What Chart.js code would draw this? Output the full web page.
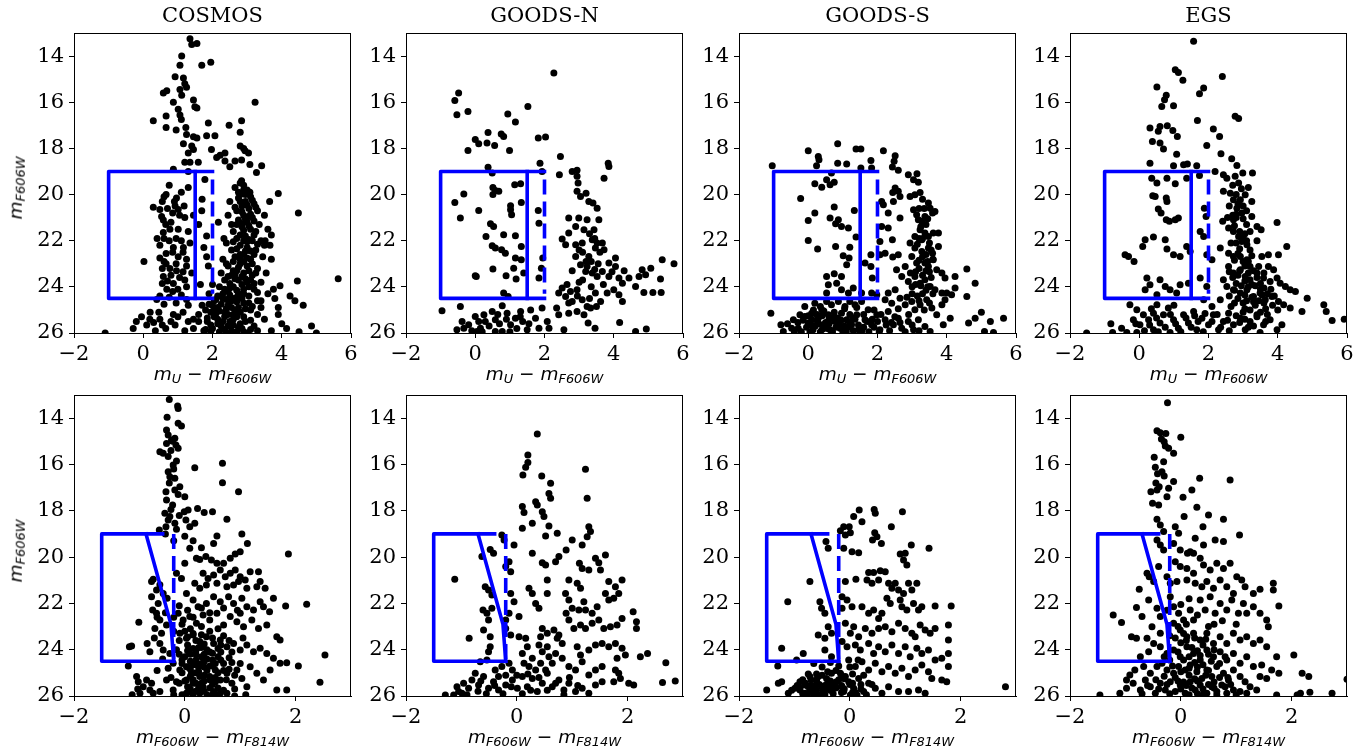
<!DOCTYPE html>
<html>
<head>
<meta charset="utf-8">
<script src="https://cdn.jsdelivr.net/npm/chart.js@4"></script>
<style>
  body { margin: 0; background: #fff; width: 1369px; height: 753px; position: relative; overflow: hidden; }
  canvas { position: absolute; }
  .title { position: absolute; font-family: 'DejaVu Serif'; font-size: 21px; line-height: 1; color: #000; transform: translateX(-50%); white-space: nowrap; }
  .lab { position: absolute; font-family: 'DejaVu Sans'; font-style: italic; font-size: 18.5px; line-height: 1; color: #000; white-space: nowrap; }
  .lab .s { font-size: 0.7em; position: relative; top: 0.2em; line-height: 0; }
  .xlab { transform: translateX(-50%); }
  .ylab { transform: translate(-50%, -50%) rotate(-90deg); }
</style>
</head>
<body>
<script>
// field names and axis ticks
const fields = ['COSMOS', 'GOODS-N', 'GOODS-S', 'EGS'];
const uvTicks = [-2, 0, 2, 4, 6];
const viTicks = [-2, 0, 2];
const magTicks = [14, 16, 18, 20, 22, 24, 26];
const uvRange = [-2, 6];
const viRange = [-2, 3];
const magRange = [13, 26];

// selection boxes
const uvBoxSolid = [[2, 19], [-1, 19], [-1, 24.5], [2, 24.5]];
const uvBoxCut = [[1.5, 19], [1.5, 24.5]];
const uvBoxDash = [[2, 19.35], [2, 24.3]];
const viBoxSolid = [[-0.4, 19], [-1.5, 19], [-1.5, 24.5], [-0.2, 24.5]];
const viBoxCut = [[-0.7, 19], [-0.25, 22.9], [-0.2, 24.5]];
const viBoxDash = [[-0.2, 19], [-0.2, 24.4]];

// m_U - m_F606W vs m_F606W
const cosmosUV = [
  [1.35,13.25],[1.55,13.45],[1.4,13.5],[1.11,14.0],[1.69,14.4],[1.95,14.27],[1.06,14.4],[0.92,14.9],[1.16,14.95],[1.2,15.2],
  [1.25,15.35],[0.68,15.5],[0.58,15.6],[1.06,15.45],[1.11,15.7],[1.45,15.9],[1.49,16.2],[1.55,16.25],[3.23,16.0],[0.87,16.0],
  [0.66,16.6],[1.01,16.3],[1.06,16.55],[1.1,16.75],[0.29,16.8],[0.66,17.1],[0.95,17.2],[1.23,17.1],[1.25,17.4],[1.45,17.5],
  [1.55,17.55],[1.88,16.9],[2.48,17.0],[2.84,16.8],[2.8,17.3],[1.83,17.45],[2.07,17.45],[1.16,17.8],[1.4,17.9],[1.45,18.05],
  [1.3,18.2],[1.97,18.05],[2.8,17.9],[2.94,18.1],[2.9,18.0],[3.04,18.2],[2.22,18.3],[2.36,18.2],[2.12,18.4],[2.36,18.55],
  [2.5,18.8],[2.65,18.55],[2.84,18.5],[3.08,18.7],[3.42,18.75],[3.27,19.05],[1.2,18.6],[1.35,18.6],[1.59,18.6],[0.87,18.9],
  [1.3,19.0],[1.78,19.35],[2.8,19.5],[2.84,19.4],[2.65,19.7],[2.9,19.8],[3.08,19.9],[3.9,19.95],[1.3,19.7],[0.66,20.0],
  [0.96,20.15],[0.29,20.55],[0.48,20.65],[0.92,20.5],[1.01,20.65],[1.18,20.5],[0.53,20.95],[0.58,21.1],[1.69,20.7],[2.17,21.2],
  [2.5,20.3],[4.48,20.8],[0.77,21.5],[0.58,21.65],[1.01,21.5],[1.83,21.8],[2.33,21.9],[0.48,22.2],[0.87,22.3],[0.66,22.55],
  [0.48,22.75],[1.01,22.7],[1.16,22.3],[3.66,22.2],[3.52,22.0],[3.7,21.75],[0.02,22.9],[0.66,23.0],[0.77,23.2],[0.96,23.3],
  [1.25,23.1],[1.83,22.7],[1.88,23.1],[2.4,23.0],[0.58,23.55],[0.87,23.85],[1.2,23.7],[1.25,24.0],[0.68,24.1],[0.48,24.4],
  [0.39,24.55],[3.95,23.95],[3.76,24.1],[4.45,23.75],[5.63,23.65],[4.24,24.4],[4.38,24.6],[4.62,24.8],[3.9,24.9],[3.4,24.6],
  [-0.05,25.3],[-0.29,25.8],[-1.1,26.0],[0.19,25.4],[0.1,25.65],[0.48,25.4],[0.87,25.2],[0.92,25.65],[1.45,25.4],[1.45,25.8],
  [4.0,25.6],[4.14,25.8],[4.86,25.7],[5.0,26.0],[4.5,25.95],
  [0.75,19.6],[1.1,19.9],[0.55,20.3],[0.85,20.8],[1.2,21.0],[0.65,21.3],[0.95,21.9],[1.3,21.6],[0.75,22.0],[1.15,22.5],
  [0.55,23.2],[1.05,23.6],[0.85,24.2],[1.1,24.35],[1.4,23.4],[0.7,23.75],[1.35,22.1],[0.4,21.9],[1.45,20.9],[0.6,24.75],
  [0.95,24.7],[1.3,24.8],[0.2,25.1],[0.65,25.8],[1.15,25.1],[1.7,24.8],[1.6,25.5],[1.2,25.9],[0.35,25.9],[-0.2,25.5],
  [1.65,23.9],[1.75,22.3],[1.6,21.3],[1.7,20.2],
  [2.9,19.6],[3.0,19.8],[2.8,20.0],[3.1,20.1],[2.95,20.3],[3.2,20.4],[2.85,20.5],[3.05,20.6],[2.7,20.7],[3.3,20.7],
  [2.9,20.9],[3.15,21.0],[2.75,21.1],[3.0,21.2],[3.35,21.3],[2.85,21.4],[3.1,21.5],[2.6,21.6],[3.25,21.6],[2.95,21.8],
  [2.7,21.9],[3.15,22.0],[3.4,22.0],[2.8,22.2],[3.0,22.3],[2.55,22.4],[3.25,22.4],[2.9,22.6],[2.65,22.7],[3.1,22.8],
  [3.45,22.7],[2.8,23.0],[3.0,23.1],[2.45,23.1],[3.3,23.2],[2.7,23.3],[2.9,23.4],[2.55,23.5],[3.15,23.5],[2.35,23.7],
  [2.75,23.7],[3.0,23.8],[3.4,23.8],[2.6,24.0],[2.2,24.0],[2.9,24.1],[3.2,24.1],[2.45,24.2],[2.75,24.3],[3.05,24.4],
  [2.3,24.5],[2.6,24.5],[2.05,24.6],[2.9,24.7],[3.3,24.6],[2.45,24.8],[2.15,24.9],[2.75,24.9],[3.1,25.0],[1.95,25.1],
  [2.35,25.1],[2.6,25.2],[2.9,25.3],[2.15,25.4],[2.5,25.5],[1.85,25.5],[2.8,25.6],[2.25,25.7],[3.2,25.7],[2.0,25.8],
  [2.55,25.9],[1.75,25.9],[2.4,26.0],[3.0,26.0],[2.7,25.95],[3.5,25.4],[3.4,24.9],[3.6,24.3],[3.55,23.4],[3.7,22.8],
  [3.5,22.2],[3.6,21.5],[3.5,20.9],[3.65,20.3],[2.45,20.9],[2.55,21.3],[2.4,22.1],[2.3,22.8],[2.25,23.4],[2.0,23.9],
  [1.9,24.3],[1.8,25.0],[3.8,24.5],[3.9,25.2],[3.3,25.9],[3.7,25.9]
];
const cosmosUVDense = [
  [2.75,19.9],[2.95,20.0],[3.15,20.25],[2.8,20.3],[3.0,20.45],[2.65,20.55],[3.25,20.55],[2.85,20.75],[3.1,20.85],[2.95,21.05],
  [3.2,21.15],[2.7,21.3],[3.05,21.35],[2.9,21.55],[3.2,21.75],[2.8,21.75],[3.05,21.95],[2.6,22.05],[2.9,22.0],[3.3,22.15],
  [2.7,22.35],[3.1,22.45],[2.95,22.45],[2.8,22.6],[3.2,22.6],[3.0,22.75],[2.6,22.9],[2.9,22.9],[3.15,23.0],[2.75,23.15],
  [3.05,23.3],[2.6,23.3],[2.85,23.55],[3.25,23.4],[2.45,23.55],[2.65,23.65],[3.1,23.7],[2.5,23.85],[2.85,23.9],[3.05,24.0],
  [2.35,24.1],[2.7,24.15],[3.3,24.25],[2.5,24.35],[2.85,24.5],[2.15,24.4],[2.4,24.55],[2.7,24.65],[3.05,24.7],[2.25,24.75],
  [2.55,24.9],[2.95,24.95],[2.05,24.95],[2.35,25.3],[2.7,25.3],[2.05,25.3],[2.45,25.7],[2.85,25.8],[2.2,25.95],[1.95,25.65],
  [2.6,25.65],[3.1,25.45],[2.3,25.5],[2.65,25.05],[2.1,25.15],[3.3,25.2],[1.9,24.75],[2.55,24.6],[2.9,24.3],[3.15,24.85],
  [0.6,20.1],[0.9,20.3],[0.7,20.6],[1.05,20.9],[0.8,21.2],[0.6,21.9],[1.1,22.0],[0.85,22.5],[1.25,22.8],[0.6,22.9],
  [0.95,23.0],[1.15,23.35],[0.8,23.5],[0.55,23.85],[1.0,24.1],[0.75,24.45],[1.25,24.55],[0.45,25.1],[0.8,25.5],[1.0,25.3],
  [0.55,25.65],[0.3,25.55],[1.3,25.5],[1.6,25.2],[1.8,25.85],
  [2.0,24.8],[2.2,25.05],[2.4,24.95],[2.6,25.4],[2.8,25.1],[2.15,25.6],[2.35,25.85],[2.55,25.55],[2.75,25.75],[1.95,25.95],
  [2.45,25.2],[2.7,24.45],[2.95,25.5],[2.1,24.55],[2.3,24.3],[2.5,24.05],[2.95,23.65],[3.2,23.85],[2.65,23.45],[2.8,22.8],
  [3.0,22.05],[2.85,21.25],[3.05,20.95],[2.75,20.15],[1.85,25.35],[2.65,26.0],[2.9,25.95],[3.1,25.85]
];
const goodsnUV = [
  [2.27,14.73],[-0.48,15.6],[-0.59,15.92],[-0.53,16.54],[-0.21,16.4],[1.52,16.18],[0.94,16.51],[1.16,16.86],[0.0,17.62],[0.1,17.8],
  [0.37,17.31],[0.34,17.77],[0.56,17.88],[0.75,17.38],[0.82,17.48],[-0.21,18.09],[0.99,18.09],[1.82,17.55],[2.03,17.51],[2.46,18.35],
  [1.87,18.64],[1.93,19.0],[2.43,19.14],[0.37,18.82],[0.49,19.07],[3.84,18.64],[3.86,18.78],[3.72,19.29],[2.8,19.0],[2.94,18.95],
  [2.94,19.21],[2.97,19.5],[2.94,19.86],[3.04,20.08],[3.2,19.94],[3.28,20.3],[3.4,20.37],[3.52,20.59],[0.51,19.69],[0.58,19.82],
  [0.68,19.86],[0.51,20.0],[1.14,19.58],[1.31,19.53],[-0.33,19.98],[-0.59,20.34],[-0.43,21.02],[0.1,20.69],[1.02,20.49],[1.02,20.66],
  [1.05,20.88],[1.33,20.34],[1.82,20.69],[1.84,21.24],[2.7,21.02],[2.99,21.02],[3.23,21.09],[3.57,21.09],[2.9,21.38],[3.14,21.53],
  [3.43,21.53],[2.7,21.67],[2.51,21.93],[0.44,21.27],[0.53,21.38],[0.31,21.82],[0.82,21.74],[1.16,21.79],[3.38,21.96],[3.52,22.1],
  [3.67,22.1],[3.47,22.32],[3.09,22.1],[2.9,22.18],[2.61,22.18],[3.28,22.68],[3.72,22.39],[4.05,22.75],[3.86,22.97],[4.05,23.12],
  [0.49,22.22],[0.58,22.32],[0.76,22.39],[0.87,22.54],[1.33,22.25],[1.16,22.75],[1.33,22.83],[1.11,23.19],[1.95,22.75],[2.9,22.68],
  [3.04,23.04],[3.23,23.12],[3.19,23.33],[3.38,23.4],[3.52,23.55],[3.67,23.33],[3.86,23.55],[4.15,23.62],[4.25,23.84],[4.44,23.62],
  [4.73,23.55],[4.82,23.26],[5.07,23.19],[5.4,22.83],[5.74,23.0],[4.92,23.48],[4.63,23.98],[4.87,24.24],[5.13,24.24],[5.37,24.24],
  [5.35,23.66],[0.0,23.52],[0.03,23.55],[0.51,23.23],[0.89,23.52],[1.18,23.66],[1.4,23.4],[1.84,23.62],[1.91,23.19],[0.82,24.27],
  [0.95,24.42],[2.51,24.05],[2.41,24.27],[2.61,24.42],[2.75,24.2],[2.8,24.63],[2.94,24.13],[3.09,24.56],[3.23,24.85],[3.47,24.27],
  [3.62,24.63],[3.81,24.27],[4.0,24.13],[4.15,24.34],[4.25,24.63],[2.35,24.92],[2.41,25.21],[2.7,25.14],[2.94,25.07],[3.14,25.21],
  [3.33,24.92],[-0.96,25.04],[-0.43,24.85],[-0.38,25.5],[-0.33,25.79],[-0.53,25.86],[-0.19,25.64],[0.1,25.5],[0.0,25.28],[0.25,25.21],
  [0.29,25.5],[0.15,25.79],[0.49,25.07],[0.58,25.43],[0.78,24.82],[0.92,25.14],[1.02,25.64],[1.16,25.36],[1.31,25.07],[1.37,25.5],
  [1.6,25.0],[1.74,25.36],[1.93,24.92],[2.08,25.5],[2.13,25.79],[1.84,25.79],[1.5,25.86],[0.58,25.93],[0.78,25.93],[0.05,25.93],
  [3.26,25.57],[3.46,25.79],[4.17,25.54],[4.94,25.83],[4.63,25.93],[2.56,25.86],
  [3.3,21.7],[3.45,21.9],[3.6,22.5],[3.35,22.9],[3.55,23.0],[3.1,22.5],[2.8,23.3],[3.0,23.8],[3.7,23.9],[3.35,24.0],
  [2.65,23.9],[4.3,23.3],[3.95,23.35]
];
const goodsnUVDense = [
  [0.4,25.7],[0.7,25.6],[0.9,25.4],[1.2,25.8],[1.3,25.3],[0.2,25.95],[-0.1,25.9],[0.65,25.2],[1.55,25.6],[1.0,25.95],
  [3.0,22.4],[3.2,22.9],[3.45,23.25],[3.1,23.7],[2.95,24.4],[3.3,24.5],[2.7,24.7],[3.5,24.85]
];
const goodssUV = [
  [0.85,17.8],[0.0,18.1],[1.38,18.03],[1.52,18.03],[2.17,18.1],[2.51,18.32],[2.48,18.56],[0.29,18.35],[0.31,18.49],[0.24,18.75],
  [0.85,18.64],[1.11,18.68],[-1.04,18.75],[1.81,18.52],[1.52,18.85],[1.83,18.85],[2.43,18.81],[2.6,18.95],[2.89,19.14],[3.14,19.1],
  [3.04,19.36],[3.18,19.47],[0.67,19.07],[0.19,19.53],[0.39,19.68],[0.53,19.36],[0.63,19.58],[0.75,19.47],[-0.22,20.17],[0.19,20.8],
  [0.0,21.12],[0.75,20.54],[0.63,21.02],[0.87,21.09],[0.79,21.27],[0.96,21.38],[1.16,21.45],[1.33,20.69],[2.51,19.72],[2.44,19.91],
  [2.6,19.86],[2.46,20.3],[2.65,20.08],[2.12,20.3],[2.17,20.44],[2.31,20.8],[2.12,21.38],[2.31,21.45],[2.65,21.02],[2.94,20.08],
  [3.08,20.01],[3.23,19.91],[3.04,20.66],[3.13,20.88],[3.18,21.09],[3.28,21.16],[3.37,20.95],[3.47,20.37],[3.52,20.59],[3.59,20.8],
  [3.66,20.73],[3.23,21.53],[3.37,21.67],[3.08,21.82],[3.28,21.96],[3.47,21.82],[3.61,21.67],[3.76,21.67],[0.0,21.99],[0.27,22.36],
  [0.79,22.25],[1.38,21.84],[1.2,22.28],[1.01,22.65],[1.18,22.75],[1.81,22.61],[2.07,22.61],[2.22,22.54],[2.44,22.71],[2.6,22.61],
  [2.43,21.96],[2.07,22.03],[2.94,22.1],[3.08,22.32],[3.28,22.47],[3.47,22.32],[3.59,22.54],[3.76,22.25],[2.99,22.68],[3.13,22.97],
  [3.37,22.97],[3.47,23.12],[3.61,22.83],[3.71,23.26],[3.86,23.4],[3.95,23.62],[4.24,23.55],[4.58,23.23],[4.82,23.84],[4.58,24.42],
  [2.8,23.12],[2.55,23.26],[2.7,23.55],[2.89,23.77],[3.08,23.55],[3.23,23.84],[3.37,23.69],[3.52,23.98],[3.66,24.13],[3.86,24.27],
  [4.0,24.27],[4.14,24.34],[4.24,24.05],[2.51,24.13],[2.31,24.27],[2.22,24.56],[2.41,24.71],[2.65,24.49],[2.8,24.78],[2.99,24.63],
  [3.08,24.99],[3.23,24.78],[3.42,24.56],[3.57,24.92],[3.71,25.21],[3.86,24.78],[3.95,24.56],[4.1,25.36],[3.9,25.64],[4.63,25.57],
  [4.82,25.36],[5.0,25.1],[5.26,25.5],[5.64,25.36],[5.09,25.93],[5.35,25.98],[0.53,23.55],[0.75,23.43],[0.96,23.55],[0.58,23.91],
  [0.82,23.84],[0.53,24.27],[0.96,24.13],[1.16,24.27],[1.3,24.05],[1.11,23.04],[1.64,22.97],[1.81,23.12],[1.85,23.62],[1.54,24.27],
  [1.83,24.27],[1.98,24.34],
  [-1.08,25.14],[-0.79,25.64],[-0.72,25.93],[-0.43,25.43],[-0.29,25.79],[-0.1,25.28],[0.0,25.57],[0.14,25.86],[0.29,25.36],[0.43,25.64],
  [0.58,25.21],[0.63,25.86],[0.77,25.5],[0.96,25.14],[0.92,25.79],[1.11,25.43],[1.25,25.64],[1.4,25.21],[1.45,25.86],[1.64,25.43],
  [1.73,24.99],[1.83,25.64],[1.98,25.21],[2.07,25.86],[2.22,25.43],[2.31,25.07],[2.46,25.64],[2.6,25.36],[2.7,25.79],[2.89,25.5],
  [3.04,25.86],[3.18,25.43],[3.37,25.72],[3.52,25.93],[-0.1,24.85],[0.19,24.71],[0.39,24.99],[0.1,25.14],[0.53,24.63],[0.67,24.78],
  [0.87,24.63],[1.06,24.85],[1.2,24.63],[1.35,24.78],[1.54,24.63],[-0.24,25.21],[-0.48,25.79],
  [0.2,25.7],[0.35,25.95],[0.5,25.55],[0.7,25.95],[0.85,25.35],[1.0,25.95],[1.3,25.9],[0.05,25.95],[-0.2,25.95],[0.45,25.05],
  [1.2,25.2],[1.6,25.75],[1.75,25.95],[2.0,25.5],[2.35,25.9],[0.25,25.2],
  [3.3,20.2],[3.4,21.3],[3.2,21.9],[3.5,22.1],[3.3,22.7],[3.4,23.3],[3.2,23.2],[3.45,24.0],[3.3,24.3],[3.0,24.0],
  [3.15,24.4],[3.6,24.3],[3.25,21.4],[3.45,22.9],[3.1,23.9],[2.95,23.4],[3.55,23.6]
];
const goodssUVDense = [
  [-0.6,25.6],[-0.4,25.95],[-0.05,25.75],[0.1,25.4],[0.3,25.6],[0.4,25.25],[0.55,25.8],[0.65,25.35],[0.8,25.75],[0.95,25.45],
  [1.05,25.7],[1.2,25.55],[1.35,25.4],[1.45,25.65],[1.6,25.2],[1.7,25.5],[1.9,25.75],[2.1,25.2],[2.25,25.65],[2.5,25.3],
  [2.65,25.55],[2.8,25.95],[3.0,25.65],[3.2,25.9],[0.15,25.0],[0.35,24.85],[0.75,25.1],[1.05,24.95],[1.4,24.9],[1.9,25.0],
  [2.6,24.95],[-0.3,25.55],[0.0,25.25],[0.6,25.6],
  [3.35,20.6],[3.2,20.6],[3.45,21.05],[3.3,21.9],[3.15,22.15],[3.55,22.4],[3.4,22.6],[3.2,22.85],[3.6,22.8],[3.1,23.35],
  [3.3,23.5],[3.5,23.35],[3.25,23.95],[3.4,24.15],[3.0,24.3],[3.2,24.6],[3.5,24.7],[2.85,24.45],[3.35,25.0],[2.9,25.2],
  [0.1,25.65],[0.4,25.85],[0.6,25.4],[0.9,25.6],[1.1,25.95],[1.3,25.35],[1.55,25.9],[1.85,25.4],[2.05,25.95],[2.4,25.55],
  [0.25,25.45],[0.75,25.3],[1.15,25.75],[-0.15,25.45]
];
const egsUV = [
  [1.57,13.36],[1.04,14.59],[1.13,14.71],[1.26,15.05],[2.4,14.88],[0.51,15.34],[0.78,15.7],[0.73,15.89],[0.65,16.18],[0.99,16.15],
  [1.86,15.38],[1.74,15.63],[2.77,16.61],[2.87,16.71],[0.31,17.12],[0.6,17.05],[0.55,17.26],[0.81,17.02],[0.97,17.23],[1.1,17.48],
  [1.68,16.79],[0.38,17.7],[0.6,17.77],[0.7,18.03],[1.08,18.25],[2.14,17.16],[2.32,17.48],[1.95,17.88],[0.31,18.64],[0.99,18.75],
  [1.28,18.71],[1.39,18.68],[1.66,18.75],[2.36,18.23],[2.67,18.45],[2.82,18.74],[2.99,19.07],[3.27,19.07],[2.19,19.0],[2.43,19.14],
  [2.53,19.29],[2.77,19.21],[2.87,19.5],[0.36,19.29],[0.51,19.5],[0.8,19.29],[1.04,19.53],[1.37,19.29],[1.74,19.18],[0.39,20.05],
  [0.46,20.08],[0.78,20.15],[0.8,20.3],[0.55,20.63],[0.63,20.8],[0.78,21.09],[0.87,21.16],[1.04,21.09],[1.13,21.02],[2.43,19.86],
  [2.63,19.94],[2.72,20.23],[2.92,20.23],[3.06,20.01],[3.25,20.3],[2.82,20.59],[2.96,20.8],[2.72,21.09],[1.88,20.59],[1.93,20.95],
  [2.41,21.16],[2.58,21.45],[2.72,21.6],[2.87,21.82],[2.96,22.03],[3.11,22.18],[3.25,20.95],[3.4,21.38],[3.52,21.53],[3.98,21.21],
  [0.17,21.96],[0.41,21.84],[0.1,22.25],[0.75,21.96],[0.8,22.36],[0.99,22.61],[1.37,22.25],[1.47,22.47],[1.18,22.68],[-0.41,22.61],
  [-0.31,22.68],[-0.15,22.9],[1.76,21.6],[1.86,21.82],[1.95,22.61],[2.1,22.83],[2.34,22.32],[2.58,22.54],[2.72,22.68],[2.92,22.68],
  [3.11,22.83],[3.2,23.12],[3.45,23.12],[3.54,22.68],[3.73,22.61],[3.73,23.12],[3.88,23.26],[4.02,22.61],[4.26,22.25],[2.58,23.12],
  [2.72,23.4],[2.92,23.26],[3.06,23.55],[3.2,23.69],[3.4,23.4],[3.59,23.62],[3.78,23.77],[3.98,23.62],[4.07,23.84],[4.22,23.98],
  [4.36,24.13],[4.51,24.2],[4.85,24.49],[2.43,23.69],[2.53,23.98],[2.72,24.13],[2.92,24.27],[3.11,24.13],[3.3,24.42],[3.49,24.27],
  [3.64,24.56],[3.83,24.42],[4.02,24.63],[4.17,24.78],[4.36,24.92],[4.7,25.07],[0.22,23.62],[0.31,23.91],[0.17,24.13],[0.6,23.69],
  [0.75,23.98],[0.89,24.13],[1.08,24.27],[1.18,23.91],[1.42,23.84],[0.51,24.34],[1.76,23.62],[1.95,23.98],[1.86,24.56],[2.1,24.85],
  [2.34,24.56],[5.33,24.78],[5.4,25.07],[5.57,25.46],[5.92,25.4],[-0.82,25.6],[-0.77,25.98],[-0.51,25.79],[-1.52,26.0],[-0.27,24.78],
  [-0.07,24.99],[0.12,25.21],[-0.17,25.43],[0.02,25.64],[0.27,25.43],[0.41,25.86],[0.6,25.57],[0.7,25.21],[0.84,24.92],[0.99,25.43],
  [1.13,25.79],[1.28,25.21],[1.42,25.57],[1.57,25.07],[1.66,25.86],[1.81,25.36],[2.0,25.64],[2.14,25.21],[2.29,25.86],[2.43,25.5],
  [2.58,25.14],[2.72,25.64],[2.92,25.36],[3.06,25.86],[3.2,25.5],[3.4,25.21],[3.59,25.64],[3.78,25.43],[3.98,25.86],[4.12,25.64],
  [0.41,25.14],[0.51,24.78],[-0.36,25.98],[-0.07,25.98],[0.89,25.98],[3.49,25.98],
  [2.8,20.0],[3.0,20.5],[2.7,20.9],[3.1,21.3],[2.9,21.6],[2.65,22.1],[3.2,22.4],[3.0,22.9],[2.85,23.5],[3.25,23.9],
  [3.5,23.85],[3.1,24.6],[3.35,24.8],[2.75,24.7],[3.65,24.95],[3.0,25.1],[2.6,24.4],[3.8,24.1],[3.4,22.0],[2.55,21.0],
  [3.15,19.7]
];
const egsUVDense = [
  [2.7,19.6],[2.95,19.75],[2.85,20.4],[2.6,20.5],[3.1,20.7],[2.8,20.85],[3.0,21.05],[2.75,21.35],[3.2,21.6],[3.0,21.85],
  [2.8,22.1],[3.1,22.0],[2.9,22.35],[3.25,22.65],[2.75,22.85],[3.05,23.1],[2.9,23.3],[3.3,23.3],[2.7,23.6],[3.05,23.75],
  [3.4,23.6],[3.6,23.4],[2.8,23.85],[3.15,24.0],[3.5,24.1],[3.7,24.3],[2.85,24.5],[3.25,24.45],[3.45,24.6],[3.0,24.7],
  [3.6,24.7],[3.9,24.4],[2.65,24.85],[3.2,25.0],[3.5,25.1],[2.8,25.25],[3.05,25.4],[3.3,25.7],[2.55,25.45],[3.7,25.2],
  [4.0,25.0],[2.6,23.35],
  [0.3,25.65],[0.5,25.35],[0.75,25.75],[0.9,25.2],[1.05,25.6],[1.2,25.95],[1.35,25.35],[1.5,25.75],[1.7,25.5],[1.9,25.15],
  [2.1,25.5],[2.25,25.2],[2.35,25.75],[0.15,25.9],[-0.1,25.6],[0.55,25.95],[1.85,25.95],[2.6,25.9],[0.35,24.95],[1.0,24.8],
  [1.6,25.25],
  [2.95,23.95],[3.15,23.4],[3.35,23.95],[3.55,24.35],[3.3,24.65],[3.05,24.95],[3.4,25.3],[3.65,25.5],[3.85,24.8],[2.9,25.55],
  [3.15,25.75],[2.75,24.15],[3.05,24.35],[3.6,24.05],[2.85,22.55],[3.15,22.9],[3.05,21.7],[2.8,21.0]
];

// m_F606W - m_F814W vs m_F606W
const cosmosVI = [
  [-0.28,13.19],[-0.13,13.48],[-0.12,13.58],[-0.32,13.96],[-0.12,14.22],[-0.06,14.34],[-0.33,14.51],[-0.3,14.73],[-0.18,14.87],[-0.24,14.94],
  [-0.33,15.09],[-0.16,15.16],[-0.12,15.3],[-0.45,15.45],[-0.39,15.52],[-0.3,15.66],[-0.15,15.85],[-0.21,16.02],[-0.3,16.31],[-0.27,16.53],
  [-0.18,16.6],[0.68,15.95],[0.18,16.14],[0.68,16.79],[0.97,17.18],[-0.34,17.18],[-0.18,17.1],[-0.09,16.96],[0.0,17.39],[-0.33,17.53],
  [-0.22,17.75],[-0.01,18.04],[0.06,17.97],[0.23,17.9],[0.35,18.08],[0.5,18.04],[0.76,18.37],[-0.36,18.11],[-0.27,18.25],[-0.18,18.54],
  [-0.34,18.69],[-0.46,18.83],[0.02,18.4],[0.09,18.69],[0.18,18.54],[1.03,19.0],[1.13,19.41],[0.58,19.09],[0.52,19.41],[0.09,19.62],
  [1.87,19.87],[0.0,20.27],[0.21,20.05],[0.27,20.1],[0.38,19.98],[0.48,20.13],[0.58,20.27],[0.7,20.27],[0.82,20.05],[0.91,19.87],
  [1.0,19.77],[-0.57,20.96],[-0.6,21.06],[-0.15,20.7],[-0.06,20.92],[0.33,20.7],[0.42,20.92],[0.52,20.77],[0.64,20.56],[0.73,20.85],
  [0.82,20.7],[0.91,20.56],[1.0,20.85],[1.09,20.99],[1.18,20.63],[1.33,20.63],[0.18,21.13],[0.27,21.35],[0.39,21.21],[0.58,21.13],
  [0.76,21.28],[0.88,21.21],[0.97,21.06],[1.12,21.35],[1.3,21.28],[1.45,21.35],[1.36,21.06],[-0.51,21.42],[-0.6,21.71],[-0.48,22.0],
  [-0.39,21.57],[-0.32,21.78],[1.6,21.78],[1.36,21.93],[1.42,22.14],[1.53,22.36],[1.24,22.29],[1.82,22.11],[2.2,22.04],[0.03,21.57],
  [0.15,21.85],[0.24,22.14],[0.39,22.0],[0.52,21.71],[0.64,21.93],[0.79,21.71],[0.88,22.0],[1.03,21.78],[1.12,22.14],[1.0,22.43],
  [-0.58,22.29],[-0.51,22.43],[-0.45,22.72],[-0.54,23.08],[-0.33,22.93],[-0.42,23.29],[-0.83,22.82],[-0.12,22.43],[-0.03,22.72],[0.09,22.57],
  [0.21,22.86],[0.33,22.5],[0.45,22.72],[0.58,22.43],[0.7,22.93],[0.82,22.57],[0.94,22.79],[1.06,23.01],[1.21,22.72],[1.33,23.08],
  [1.48,22.93],[1.66,23.44],[1.72,23.58],[-0.96,23.84],[-1.0,23.87],[-0.68,23.73],[-0.63,24.09],[-0.45,23.73],[-0.39,24.01],[-0.27,24.16],
  [-0.09,23.29],[0.03,23.51],[0.15,23.37],[0.27,23.65],[0.39,23.44],[0.52,23.73],[0.64,23.58],[0.76,23.87],[0.88,23.73],[1.0,24.01],
  [1.12,23.8],[1.24,24.09],[1.36,23.94],[1.48,24.16],[1.6,24.37],[1.72,24.59],[1.84,24.56],[2.05,24.7],[2.53,24.23],[-1.02,24.7],
  [-0.87,25.16],[-0.84,25.38],[-0.75,25.6],[-0.81,25.88],[-0.69,25.31],[-0.63,25.74],[-0.57,25.88],[-0.21,24.59],[-0.09,24.88],[0.03,24.74],
  [0.12,25.02],[0.21,24.66],[0.27,25.16],[0.15,25.45],[0.03,25.31],[0.33,25.6],[0.45,25.16],[0.55,24.88],[0.64,25.31],[0.76,25.02],
  [0.85,25.45],[0.94,24.88],[1.03,25.24],[1.12,25.6],[1.18,24.74],[1.3,25.02],[1.42,25.31],[1.54,24.88],[1.66,25.74],[1.84,25.74],
  [0.52,25.81],[0.64,25.88],[0.76,25.88],[0.27,25.88],[0.03,25.88],[-0.21,25.74],[-0.15,25.38],[-0.33,25.31],[-0.45,25.81],[2.44,25.41],
  [0.0,24.3],[0.1,24.5],[0.2,24.2],[0.3,24.6],[0.4,24.4],[0.5,24.7],[0.6,24.3],[0.25,24.95],[0.05,25.6],[0.2,25.8],
  [0.35,25.35],[0.5,25.5],[0.1,25.15],[0.4,25.95],[0.6,25.65],[-0.05,25.0],[0.7,24.6],[0.15,23.95],[0.45,24.1],[0.3,23.9],
  [0.9,25.7],[1.0,24.6],[-0.25,25.2],[-0.1,24.2],[0.55,25.2],[0.8,24.35],[0.2,25.45],[0.35,24.75]
];
const cosmosVIDense = [
  [-0.1,22.1],[0.05,22.3],[-0.2,22.6],[0.15,22.6],[0.3,22.2],[0.45,22.4],[-0.05,22.9],[0.1,23.1],[0.3,23.0],[0.45,23.2],
  [0.6,23.1],[-0.2,23.2],[-0.1,23.6],[0.05,23.8],[0.2,23.6],[0.35,23.75],[0.5,23.5],[0.65,23.8],[0.8,23.6],[-0.15,24.0],
  [0.05,24.05],[0.2,24.45],[0.35,24.2],[0.5,24.45],[0.65,24.1],[0.85,24.55],[-0.05,24.6],[0.1,24.85],[0.4,24.9],[0.6,25.0],
  [0.75,25.3],[-0.1,25.45],[0.05,25.85],[0.25,25.65],[0.45,25.65],[0.6,25.95],[0.35,25.1],[0.15,25.3],[0.5,24.15],[0.25,24.75],
  [0.7,24.9],[0.9,25.1],[-0.3,24.8],[-0.2,25.95],[0.9,26.0],[1.1,25.95],[0.85,24.1],[1.05,23.5],[0.95,22.3],[0.7,22.2],
  [-0.22,15.0],[-0.25,15.4],[-0.2,16.2],[-0.28,16.8],[-0.12,17.3],[-0.25,17.95],[-0.1,18.2],[-0.3,18.4],[-0.15,18.8],[0.0,19.1],
  [-0.2,19.3],[-0.35,19.0],[0.15,19.3],[0.3,19.6],
  [-0.45,21.2],[-0.5,22.6],[-0.35,22.4],[-0.55,23.5],[-0.4,24.4],[-0.5,24.9],[-0.6,25.45],[-0.85,25.7],[-0.95,25.95],
  [0.0,23.2],[0.15,23.3],[0.3,23.35],[0.05,23.45],[0.25,23.9],[0.4,24.0],[0.1,24.2],[0.3,24.3],[0.2,24.05],[-0.05,24.45],
  [0.15,24.65],[0.35,24.5],[0.55,24.6],[0.05,24.75],[0.2,25.0],[0.45,25.3],[0.3,25.45],[0.0,25.35],[0.1,25.7],[0.35,25.8],
  [0.55,25.4],[0.7,25.75],[0.15,25.95],[0.5,25.95],[-0.05,25.95],[0.65,24.45],[0.8,24.85],[0.45,24.7],[0.6,23.95],[0.7,23.4]
];
const goodsnVI = [
  [0.37,14.68],[0.2,15.59],[0.2,15.92],[0.16,16.12],[0.11,16.45],[0.45,16.5],[1.24,16.21],[1.27,17.46],[0.61,16.81],[0.58,17.25],
  [0.61,17.46],[0.1,17.82],[0.13,18.08],[0.34,17.61],[0.37,17.75],[0.46,18.04],[0.49,18.25],[0.28,18.54],[0.58,18.66],[0.52,19.09],
  [0.73,18.97],[0.1,18.76],[1.3,18.69],[1.33,18.9],[1.27,19.12],[1.0,19.26],[0.89,19.69],[0.76,19.98],[0.7,20.2],[1.18,19.48],
  [1.42,20.05],[1.48,20.24],[1.6,19.91],[0.28,19.84],[-0.05,19.48],[-0.27,19.05],[-0.23,19.26],[-0.48,19.67],[-0.42,19.84],[-0.63,19.98],
  [-0.14,20.2],[-0.2,20.41],[-0.11,20.63],[-1.12,20.96],[0.46,20.24],[0.52,20.34],[1.13,20.27],[1.18,20.49],[1.3,20.56],[1.51,20.56],
  [0.55,20.99],[0.55,21.57],[0.22,21.35],[0.28,21.57],[0.94,20.99],[1.09,21.13],[1.15,21.35],[1.66,21.06],[1.9,20.99],[1.78,21.28],
  [-0.57,21.28],[-0.51,21.42],[-0.45,21.64],[-0.11,21.57],[-0.05,21.93],[0.34,22.0],[0.4,22.21],[0.88,21.57],[0.94,21.85],[1.0,22.21],
  [1.12,22.29],[1.21,21.93],[1.24,22.29],[1.36,22.43],[1.45,22.14],[1.6,21.57],[1.66,21.85],[1.75,21.78],[1.84,21.57],[-0.61,22.29],
  [-0.54,22.43],[-0.51,22.72],[-0.45,22.21],[0.04,22.57],[-0.14,22.43],[-0.2,22.72],[0.89,22.43],[0.94,22.72],[1.03,23.08],[1.15,22.93],
  [1.24,23.08],[1.36,22.86],[1.48,22.72],[1.57,23.08],[1.69,23.01],[1.81,22.93],[1.9,22.65],[2.1,22.36],[2.16,22.79],[2.16,23.08],
  [-0.86,23.51],[-0.6,23.15],[-0.48,23.44],[-0.2,23.08],[-0.11,23.37],[0.04,23.44],[0.16,23.51],[0.46,23.08],[0.43,23.44],[0.55,23.29],
  [0.67,23.15],[0.76,23.37],[0.73,23.51],[0.82,23.73],[0.19,23.87],[0.1,24.16],[0.28,24.37],[0.4,23.8],[0.46,24.09],[0.55,23.87],
  [0.58,24.3],[0.64,24.59],[0.7,24.16],[0.82,24.37],[1.09,23.87],[1.15,24.23],[1.3,24.01],[1.42,23.8],[1.54,23.73],[1.66,23.87],
  [1.78,23.73],[1.9,23.94],[1.96,24.23],[1.81,24.37],[2.23,24.3],[2.36,24.16],[-0.51,24.09],[-0.48,23.87],[-0.54,24.45],[-0.66,24.52],
  [-0.14,24.59],[-0.08,24.88],[-0.27,24.73],[-0.39,24.88],[-0.33,25.16],[2.69,24.56],[0.94,24.73],[1.06,24.88],[1.18,24.52],[1.3,25.09],
  [1.42,24.88],[1.54,24.73],[1.78,24.88],[1.84,25.02],[1.87,25.24],[2.02,25.45],[2.11,25.52],[1.75,25.38],[1.54,25.38],[1.42,25.52],
  [2.63,25.42],[2.86,25.35],[-1.08,25.6],[-1.05,25.81],[-0.96,25.45],[-0.87,25.67],[-0.81,25.31],[-0.75,25.02],[-0.69,25.52],[-0.6,25.16],
  [-0.51,25.67],[-0.42,25.38],[-0.33,25.74],[-0.2,25.52],[-0.08,25.31],[0.01,25.67],[0.1,25.16],[0.19,25.6],[0.28,25.24],[0.37,25.81],
  [0.46,25.45],[0.55,25.02],[0.64,25.6],[0.76,25.31],[0.85,25.74],[0.94,25.45],[1.06,25.81],[1.18,25.67],[1.3,25.88],[-0.99,25.88],
  [-1.14,25.96],[-1.29,25.96],[0.34,24.88],[0.22,24.73],[0.13,24.59],[0.43,24.59],[0.52,24.88]
];
const goodsnVIDense = [
  [-0.9,25.95],[-0.7,25.8],[-0.55,25.9],[-0.4,25.55],[-0.25,25.9],[-0.1,25.6],[0.1,25.9],[0.25,25.75],[0.4,25.2],[0.55,25.75],
  [0.7,25.45],[0.85,25.95],[0.0,25.1],[-0.2,25.1],[-0.65,25.35],[0.2,25.05],[0.95,25.2],[1.1,25.55]
];
const goodssVI = [
  [0.17,17.97],[0.44,17.94],[0.46,18.11],[0.95,18.04],[0.07,18.25],[0.22,18.47],[-0.01,18.69],[-0.11,18.69],[-0.17,18.86],[-0.08,19.05],
  [0.01,18.95],[0.75,18.69],[0.45,18.95],[0.49,19.12],[0.57,19.41],[0.41,19.26],[1.11,19.48],[1.43,19.62],[-0.43,19.33],[-0.39,19.62],
  [-0.11,19.62],[0.04,19.77],[0.16,19.81],[0.91,19.87],[1.0,19.84],[0.97,20.13],[1.03,20.34],[0.34,20.67],[0.43,20.67],[0.55,20.59],
  [0.64,20.63],[0.31,20.99],[0.4,21.13],[0.52,20.99],[0.11,20.96],[-0.08,21.06],[-0.72,21.06],[-1.12,21.93],[0.7,21.13],[0.82,21.13],
  [0.76,21.35],[0.88,21.42],[0.97,21.57],[1.06,21.13],[1.12,21.42],[1.21,21.13],[0.67,21.78],[0.73,22.0],[0.91,21.85],[0.94,22.14],
  [1.03,22.29],[1.15,22.0],[1.24,22.29],[1.3,22.14],[1.54,22.11],[1.83,22.11],[-0.14,21.71],[-0.05,21.85],[0.04,22.14],[-0.14,22.21],
  [-0.51,22.21],[-0.45,22.43],[-0.54,21.93],[0.22,22.14],[0.34,22.43],[0.43,22.29],[0.52,22.65],[0.58,22.43],[-0.39,23.01],[-0.57,23.37],
  [-0.45,23.51],[-0.33,23.29],[-0.08,22.86],[0.07,23.01],[0.01,23.29],[0.16,23.44],[0.28,23.08],[0.4,23.29],[0.52,23.08],[0.64,23.01],
  [0.76,23.22],[0.88,22.86],[1.0,23.08],[1.12,23.29],[1.18,23.44],[1.27,22.93],[1.36,23.15],[1.45,23.29],[1.54,23.08],[1.78,22.93],
  [1.78,23.58],[-1.23,23.94],[-0.84,24.16],[-0.45,24.01],[-0.33,24.3],[-0.14,23.65],[-0.05,23.87],[0.1,23.8],[0.19,24.01],[0.34,23.73],
  [0.43,24.16],[0.52,23.87],[0.64,24.09],[0.76,23.8],[0.88,24.16],[1.0,23.87],[1.09,24.3],[1.21,23.94],[1.3,24.16],[1.42,24.01],
  [1.54,24.45],[1.66,24.37],[1.78,24.16],[1.78,24.73],[-1.3,24.7],[-0.96,24.45],[-0.02,24.45],[0.1,24.73],[0.22,24.52],[0.34,24.88],
  [0.46,24.59],[0.58,24.95],[0.7,24.73],[0.82,25.02],[0.94,24.8],[1.06,25.16],[1.18,24.88],[1.3,24.66],[1.42,24.95],[1.48,25.24],
  [1.66,25.31],[1.75,25.38],[-1.29,25.45],[-1.23,25.38],[-1.5,25.74],[-1.11,25.88],[-0.99,25.67],[-0.9,25.38],[-0.81,25.52],[-0.72,25.16],
  [-0.66,25.81],[-0.6,25.38],[-0.51,25.6],[-0.42,25.24],[-0.36,25.74],[-0.27,25.45],[-0.17,25.02],[-0.11,25.81],[-0.02,25.38],[0.07,25.67],
  [0.16,25.24],[0.25,25.81],[0.34,25.45],[0.46,25.67],[0.58,25.88],[0.7,25.6],[0.88,25.81],[1.06,25.81],[1.24,25.74],[1.36,25.88],
  [2.81,25.6],[-0.9,25.74],[-0.75,25.6],[-0.63,25.57],[-0.48,25.81],[-0.39,25.52],[-0.57,25.16],[-0.33,25.02],[-0.75,25.88],[-0.14,25.6],
  [-0.81,25.88],[-0.08,25.16],[0.01,25.96],[0.13,25.96],[-0.51,25.96],
  [-0.6,25.3],[-0.4,25.45],[-0.2,25.3],[-0.7,25.7],[-0.3,25.9],[-0.5,25.1],[-0.15,25.55],[0.05,25.45],[-0.85,25.3],[-0.25,24.9]
];
const goodssVIDense = [
  [-0.8,25.45],[-0.7,25.3],[-0.55,25.5],[-0.45,25.7],[-0.35,25.35],[-0.25,25.65],[-0.1,25.7],[0.0,25.5],[0.1,25.85],[0.2,25.5],
  [-0.65,25.95],[-0.45,25.95],[-0.95,25.55],[-0.6,25.05],[-0.4,24.95],[-0.15,25.1],[0.05,25.05],[0.25,25.1],[-0.3,25.6],[-0.85,25.9],
  [-0.75,25.05],[-1.05,25.75],[0.3,25.95],[0.4,25.5],[-0.5,24.75],[-0.2,24.7],[0.0,24.75],[-0.65,24.6],[0.15,24.45],[-0.35,24.55],
  [-0.55,25.95],[-0.35,25.75],[-0.15,25.85],[0.05,25.85],[-0.7,25.55],[-0.25,25.4],[-0.45,25.55],[-0.1,25.25],[0.2,25.7],[-0.9,25.65],
  [-0.6,25.75]
];
const egsVI = [
  [-0.24,13.33],[-0.43,14.54],[-0.37,14.63],[-0.27,14.66],[-0.3,15.02],[-0.22,15.3],[-0.13,15.52],[-0.48,15.69],[-0.46,16.12],[-0.31,15.88],
  [-0.34,16.31],[0.0,14.83],[0.34,16.6],[0.89,16.67],[-0.54,17.18],[-0.43,17.1],[-0.39,16.96],[-0.51,17.68],[-0.4,17.75],[-0.22,17.03],
  [-0.25,17.39],[-0.13,16.74],[0.04,17.42],[0.2,17.1],[0.29,17.85],[0.5,18.18],[0.06,18.25],[0.77,18.37],[0.4,18.69],[-0.43,18.37],
  [-0.37,18.61],[-0.31,18.9],[-0.1,18.69],[-0.04,18.97],[1.06,19.05],[-0.43,19.26],[-0.37,19.48],[-0.31,19.69],[-0.13,19.41],[-0.01,19.69],
  [0.12,19.84],[0.26,19.19],[0.41,19.48],[0.62,19.26],[0.77,19.33],[0.17,19.77],[0.23,19.84],[0.35,20.05],[-0.61,20.7],[-0.57,20.85],
  [-0.49,21.06],[-0.4,20.41],[-0.1,20.2],[-0.01,20.41],[0.11,20.49],[0.23,20.7],[0.41,20.34],[0.53,20.56],[0.65,20.27],[0.77,20.49],
  [0.89,20.27],[1.01,20.85],[1.1,20.99],[1.16,21.28],[-0.25,20.85],[-0.19,21.13],[-0.07,21.06],[0.11,20.99],[0.26,21.13],[0.38,21.28],
  [0.47,21.06],[0.59,21.35],[0.71,20.99],[0.83,21.28],[0.95,21.57],[1.67,21.13],[1.67,21.42],[1.43,21.39],[1.31,21.57],[1.77,22.11],
  [-0.75,21.39],[-0.8,22.18],[-0.7,22.57],[-1.22,22.5],[-1.07,22.83],[-0.58,21.85],[-0.43,22.21],[-0.37,22.57],[-0.52,23.01],[-0.61,23.51],
  [-0.49,23.73],[-0.37,23.29],[-0.19,21.71],[-0.13,22.14],[-0.04,22.43],[-0.13,22.86],[-0.01,23.15],[0.05,22.72],[0.17,22.29],[0.23,22.72],
  [0.35,21.85],[0.44,22.29],[0.53,21.71],[0.62,22.43],[0.71,22.0],[0.83,22.29],[0.92,21.85],[1.04,22.43],[1.13,22.0],[1.19,22.43],
  [1.31,22.14],[1.43,22.43],[1.55,22.72],[1.58,23.01],[-0.89,23.44],[-0.8,23.51],[0.11,23.44],[0.23,23.29],[0.35,23.58],[0.47,23.29],
  [0.59,23.73],[0.71,23.44],[0.83,23.73],[0.95,23.29],[1.07,23.58],[1.19,23.44],[1.31,23.73],[1.43,23.58],[1.55,23.87],[1.73,24.3],
  [2.04,24.23],[1.46,24.66],[-0.73,24.3],[-0.58,24.09],[-0.37,23.87],[-0.25,24.16],[-0.13,24.01],[-0.01,24.3],[0.11,23.87],[0.23,24.16],
  [0.35,24.45],[0.47,24.01],[0.59,24.3],[0.71,24.09],[0.83,24.45],[0.95,24.16],[1.07,24.59],[1.19,24.3],[1.31,24.73],[1.43,25.16],
  [1.55,25.24],[1.64,24.88],[1.77,25.02],[2.19,25.02],[2.31,25.16],[2.16,25.88],[2.33,25.84],[2.73,25.88],[3.0,25.28],[-0.92,25.09],
  [-0.98,25.31],[-0.83,24.88],[-0.67,24.73],[-0.55,25.02],[-0.43,24.73],[-0.34,24.59],[-0.25,24.88],[-0.13,25.02],[-0.04,24.73],[0.08,24.88],
  [0.17,24.66],[0.29,24.95],[0.38,25.24],[0.47,24.88],[0.56,25.16],[0.65,24.73],[0.77,25.02],[0.86,25.31],[0.95,24.88],[1.07,25.16],
  [1.16,25.38],[1.25,25.6],[1.37,25.74],[-1.46,25.96],[-1.1,25.88],[-0.98,25.67],[-0.86,25.45],[-0.73,25.74],[-0.64,25.31],[-0.55,25.6],
  [-0.46,25.88],[-0.37,25.45],[-0.28,25.74],[-0.19,25.38],[-0.1,25.81],[-0.01,25.52],[0.08,25.88],[0.17,25.38],[0.26,25.74],[0.35,25.52],
  [0.47,25.88],[0.56,25.6],[0.65,25.81],[0.74,25.52],[0.83,25.88],[0.95,25.74],[1.07,25.81],[1.19,25.88],[1.73,25.96],[2.1,25.96]
];
const egsVIDense = [
  [-0.1,23.5],[0.0,23.7],[0.1,23.6],[-0.2,23.4],[0.2,23.9],[0.3,24.05],[0.4,23.8],[0.5,24.2],[-0.05,24.1],[0.05,24.45],
  [0.15,24.3],[0.25,24.55],[0.4,24.65],[0.55,24.5],[0.7,24.6],[-0.2,24.45],[-0.3,24.3],[0.0,24.95],[0.15,25.1],[0.3,25.35],
  [0.45,25.1],[0.6,25.4],[0.7,25.2],[-0.1,25.2],[0.05,25.4],[0.2,25.65],[0.4,25.7],[0.6,25.65],[0.8,25.6],[-0.3,25.15],
  [-0.45,25.3],[-0.6,25.55],[-0.7,25.9],[-0.2,25.9],[0.0,25.7],[0.3,25.9],[0.9,25.5],[1.0,25.95],[-0.05,23.0],[0.1,22.9],
  [0.3,22.5],[0.6,22.9],[-0.25,22.3],[0.0,22.05],[0.15,21.8],[0.5,23.0],[0.75,22.75],[1.0,22.9],
  [-0.35,14.9],[-0.28,15.2],[-0.42,16.4],[-0.3,16.5],[-0.45,16.8],
  [0.05,23.3],[0.25,23.5],[0.45,23.55],[0.35,24.25],[0.15,24.8],[0.3,24.75],[0.5,24.9],[0.6,24.0],[0.8,24.3],[-0.15,24.7],
  [-0.25,25.5],[0.1,25.55],[0.25,25.25],[0.5,25.5],[0.65,25.95],[0.15,25.95],[-0.05,25.35],[0.4,25.95],[-0.4,25.7],[0.85,25.2]
];

const uvData = [cosmosUV.concat(cosmosUVDense), goodsnUV.concat(goodsnUVDense), goodssUV.concat(goodssUVDense), egsUV.concat(egsUVDense)];
const viData = [cosmosVI.concat(cosmosVIDense), goodsnVI.concat(goodsnVIDense), goodssVI.concat(goodssVIDense), egsVI.concat(egsVIDense)];

// panel layout (plot area in page pixels)
const colLeft = [74, 406, 739, 1070];
const rowTop = [33, 395];
const plotW = 277;
const plotH = [300, 301];
const padL = 50, padT = 20, padR = 20, padB = 40;

const frame = {
  id: 'frame',
  afterDraw(chart) {
    const a = chart.chartArea, c = chart.ctx;
    c.save();
    c.strokeStyle = '#000';
    c.lineWidth = 1;
    c.strokeRect(a.left + 0.5, a.top + 0.5, a.width - 1, a.height);
    c.restore();
  }
};

const toXY = arr => arr.map(p => ({ x: p[0], y: p[1] }));
const fmt = v => (v < 0 ? '\u2212' + Math.abs(v) : String(v));

function lineSet(pts, dash) {
  return {
    data: toXY(pts), showLine: true, pointRadius: 0, borderColor: '#0000ff',
    borderWidth: 3.6, borderDash: dash || [], borderCapStyle: dash ? 'butt' : 'square',
    borderJoinStyle: 'round', fill: false, order: 0, clip: 0
  };
}

function addText(cls, html, left, top) {
  const d = document.createElement('div');
  d.className = cls;
  d.innerHTML = html;
  d.style.left = left + 'px';
  d.style.top = top + 'px';
  document.body.appendChild(d);
}

function makePanel(row, col) {
  const pts = row === 0 ? uvData[col] : viData[col];
  const xr = row === 0 ? uvRange : viRange;
  const xt = row === 0 ? uvTicks : viTicks;
  const box = row === 0 ? [uvBoxSolid, uvBoxCut, uvBoxDash] : [viBoxSolid, viBoxCut, viBoxDash];
  const h = plotH[row];

  const cv = document.createElement('canvas');
  cv.width = padL + plotW + padR;
  cv.height = padT + h + padB;
  cv.style.left = (colLeft[col] - padL) + 'px';
  cv.style.top = (rowTop[row] - padT) + 'px';
  document.body.appendChild(cv);

  const tickFont = { family: 'DejaVu Serif', size: 21 };
  new Chart(cv, {
    type: 'scatter',
    data: {
      datasets: [
        lineSet(box[0]), lineSet(box[1]), lineSet(box[2], [15, 7]),
        { data: toXY(pts), pointRadius: 3.5, pointHoverRadius: 3.5, backgroundColor: '#000', borderWidth: 0, order: 1, clip: 0 }
      ]
    },
    options: {
      responsive: false,
      animation: false,
      events: [],
      layout: { padding: { top: padT, right: padR, bottom: 0, left: 0 } },
      plugins: { legend: { display: false }, tooltip: { enabled: false } },
      scales: {
        x: {
          type: 'linear', min: xr[0], max: xr[1],
          afterBuildTicks: s => { s.ticks = xt.map(v => ({ value: v })); },
          afterFit: s => { s.height = padB; },
          grid: { drawOnChartArea: false, drawTicks: true, tickLength: 5, color: '#000' },
          border: { color: '#000' },
          ticks: { color: '#000', font: tickFont, padding: 4, maxRotation: 0, autoSkip: false, callback: fmt }
        },
        y: {
          type: 'linear', reverse: true, min: magRange[0], max: magRange[1],
          afterBuildTicks: s => { s.ticks = magTicks.map(v => ({ value: v })); },
          afterFit: s => { s.width = padL; },
          grid: { drawOnChartArea: false, drawTicks: true, tickLength: 5, color: '#000' },
          border: { color: '#000' },
          ticks: { color: '#000', font: tickFont, padding: 5, autoSkip: false, callback: fmt }
        }
      }
    },
    plugins: [frame]
  });

  const cx = colLeft[col] + plotW / 2;
  if (row === 0) addText('title', fields[col], cx, 5);
  const xl = row === 0
    ? '<i>m</i><span class="s">U</span> \u2212 <i>m</i><span class="s">F606W</span>'
    : '<i>m</i><span class="s">F606W</span> \u2212 <i>m</i><span class="s">F814W</span>';
  addText('lab xlab', xl, cx, rowTop[row] + h + 32);
  if (col === 0) {
    addText('lab ylab', '<i>m</i><span class="s">F606W</span>', 16, rowTop[row] + h / 2 + 5);
  }
}

for (let r = 0; r < 2; r++) {
  for (let c = 0; c < 4; c++) makePanel(r, c);
}
</script>
</body>
</html>
